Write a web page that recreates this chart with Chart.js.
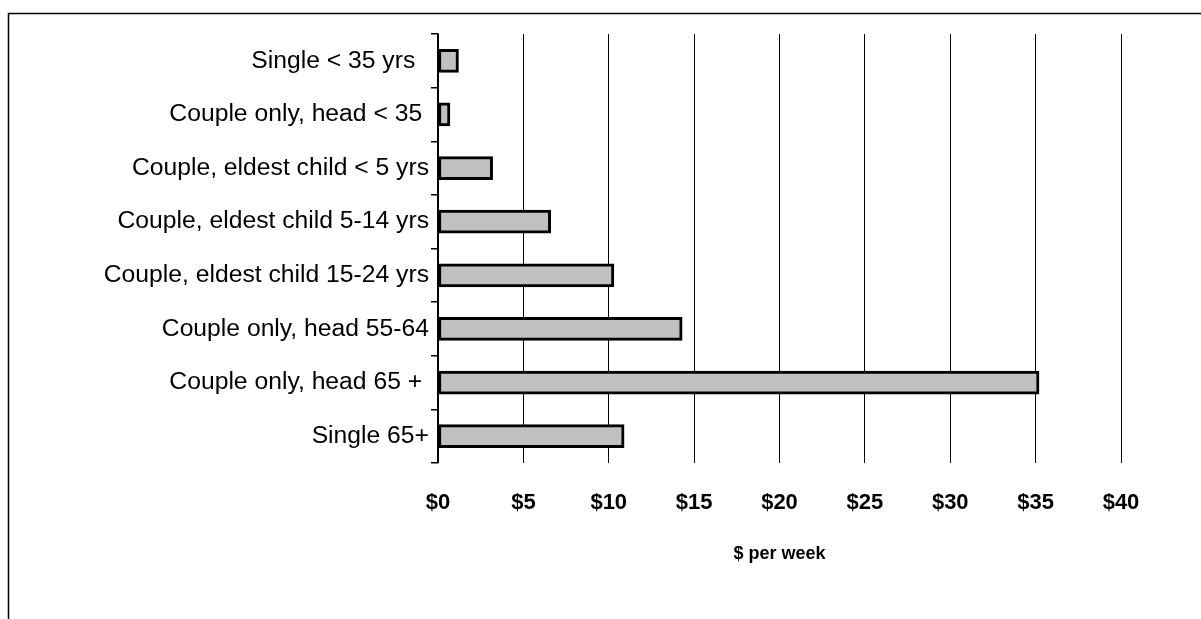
<!DOCTYPE html>
<html>
<head>
<meta charset="utf-8">
<script src="https://cdn.jsdelivr.net/npm/chart.js@4.4.1/dist/chart.umd.min.js"></script>
<style>
  html, body { margin: 0; padding: 0; background: #fff; }
  canvas { display: block; }
</style>
</head>
<body>
<canvas id="costChart" width="1201" height="619"></canvas>
<script>
// household types, top to bottom (trailing spaces kept as in the source labels)
const categories = [
    'Single < 35 yrs  ',
    'Couple only, head < 35 ',
    'Couple, eldest child < 5 yrs',
    'Couple, eldest child 5-14 yrs',
    'Couple, eldest child 15-24 yrs',
    'Couple only, head 55-64',
    'Couple only, head 65 + ',
    'Single 65+'
];
// $ per week
const weeklyCost = [1.2, 0.7, 3.2, 6.6, 10.3, 14.3, 35.2, 10.9];
const xTicks = [0, 5, 10, 15, 20, 25, 30, 35, 40];

const FONT = 'Arial, "Liberation Sans", sans-serif';

// white page plus the open frame line along the top and left
const framePlugin = {
    id: 'frame',
    beforeDraw(chart) {
        const ctx = chart.ctx;
        ctx.save();
        ctx.fillStyle = '#fff';
        ctx.fillRect(0, 0, chart.width, chart.height);
        ctx.strokeStyle = '#000';
        ctx.lineWidth = 1.5;
        ctx.beginPath();
        ctx.moveTo(chart.width, 13.5);
        ctx.lineTo(8.5, 13.5);
        ctx.lineTo(8.5, chart.height);
        ctx.stroke();
        ctx.restore();
    }
};

new Chart(document.getElementById('costChart'), {
    type: 'bar',
    data: {
        labels: categories,
        datasets: [{
            data: weeklyCost,
            backgroundColor: '#c0c0c0',
            borderColor: '#000',
            borderWidth: 3,
            borderSkipped: false,
            barThickness: 23
        }]
    },
    options: {
        indexAxis: 'y',
        responsive: false,
        animation: false,
        layout: { padding: { top: 34, right: 80, left: 0, bottom: 0 } },
        plugins: {
            legend: { display: false },
            tooltip: { enabled: false }
        },
        scales: {
            x: {
                min: xTicks[0],
                max: xTicks[xTicks.length - 1],
                afterBuildTicks(scale) {
                    scale.ticks = xTicks.map(v => ({ value: v }));
                },
                afterFit(scale) { scale.height = 156; },
                grid: { color: '#000', lineWidth: 1, drawTicks: false },
                border: { display: false },
                ticks: {
                    padding: 27,
                    color: '#000',
                    font: { family: FONT, size: 22, weight: 'bold' },
                    callback: v => '$' + v
                },
                title: {
                    display: true,
                    text: '$ per week',
                    color: '#000',
                    font: { family: FONT, size: 18, weight: 'bold' },
                    padding: { top: 0, bottom: 54 }
                }
            },
            y: {
                afterFit(scale) { scale.width = 438; },
                grid: {
                    offset: true,
                    drawOnChartArea: false,
                    tickLength: 7,
                    color: '#000',
                    lineWidth: 1.5
                },
                border: { display: true, color: '#000', width: 1.5 },
                ticks: {
                    padding: 2,
                    color: '#000',
                    font: { family: FONT, size: 24.7 }
                }
            }
        }
    },
    plugins: [framePlugin]
});
</script>
</body>
</html>
